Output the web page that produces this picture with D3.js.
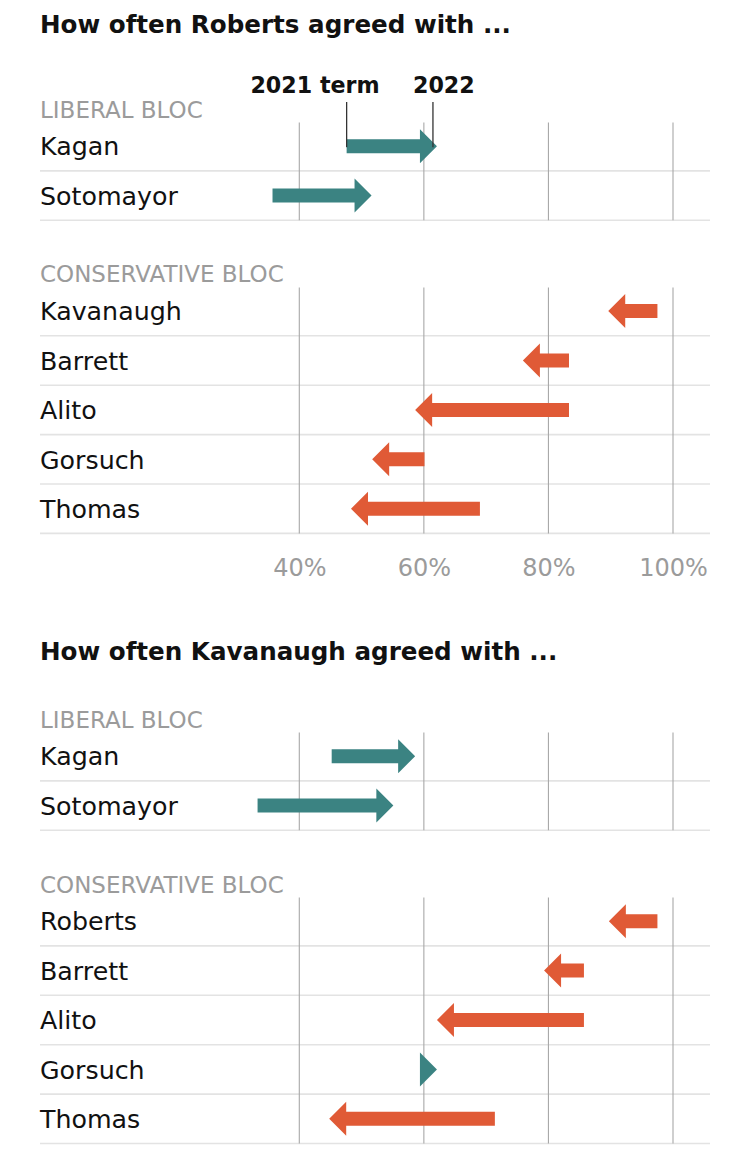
<!DOCTYPE html>
<html>
<head>
<meta charset="utf-8">
<script src="https://cdn.jsdelivr.net/npm/d3@7"></script>
<style>
  html, body { margin: 0; padding: 0; background: #fff; }
  svg { display: block; }
  text { font-family: "DejaVu Sans", sans-serif; }
</style>
</head>
<body>
<svg id="chart" width="750" height="1155"></svg>
<script>
// ---------------- DATA ----------------
const robertsTitle = "How often Roberts agreed with ...";
const robertsJustices = ["Kagan", "Sotomayor", "Kavanaugh", "Barrett", "Alito", "Gorsuch", "Thomas"];
const robertsBlocs = ["liberal", "liberal", "conservative", "conservative", "conservative", "conservative", "conservative"];
const roberts2021 = [47.6, 35.7, 97.5, 83.3, 83.3, 60.1, 69.0];
const roberts2022 = [62.1, 51.6, 89.6, 75.9, 58.6, 51.7, 48.3];

const kavanaughTitle = "How often Kavanaugh agreed with ...";
const kavanaughJustices = ["Kagan", "Sotomayor", "Roberts", "Barrett", "Alito", "Gorsuch", "Thomas"];
const kavanaughBlocs = ["liberal", "liberal", "conservative", "conservative", "conservative", "conservative", "conservative"];
const kavanaugh2021 = [45.2, 33.3, 97.5, 85.7, 85.7, 60.5, 71.4];
const kavanaugh2022 = [58.6, 55.1, 89.7, 79.3, 62.1, 62.1, 44.8];

const blocKeys = ["liberal", "conservative"];
const blocLabels = ["LIBERAL BLOC", "CONSERVATIVE BLOC"];
const tickValues = [40, 60, 80, 100];
const termLabels = ["2021 term", "2022"];

// ---------------- STYLE / LAYOUT ----------------
const TEAL = "#3b8382";
const ORANGE = "#e05a36";
const GRID = "#a8a8a8";
const SEP = "#e3e3e3";
const GRAYTXT = "#9b9b9b";
const ROW_H = 49.4;
const SHAFT_H = 7;     // half thickness
const HEAD_HH = 17;    // half height of head
const HEAD_L = 17;     // head length
const LEFT = 40, RIGHT = 710;

const svg = d3.select("#chart");
const x = d3.scaleLinear().domain([40, 100]).range([299.3, 673]);

function arrowPath(x0, x1, cy) {
  const dir = x1 >= x0 ? 1 : -1;
  const tip = x1;
  const base = tip - dir * HEAD_L;
  const p = d3.path();
  if (Math.abs(x1 - x0) > HEAD_L) {
    p.moveTo(x0, cy - SHAFT_H);
    p.lineTo(base, cy - SHAFT_H);
    p.lineTo(base, cy - HEAD_HH);
    p.lineTo(tip, cy);
    p.lineTo(base, cy + HEAD_HH);
    p.lineTo(base, cy + SHAFT_H);
    p.lineTo(x0, cy + SHAFT_H);
  } else {
    p.moveTo(base, cy - HEAD_HH);
    p.lineTo(tip, cy);
    p.lineTo(base, cy + HEAD_HH);
  }
  p.closePath();
  return p.toString();
}

function drawChart(cfg) {
  const g = svg.append("g");

  g.append("text")
    .attr("x", LEFT).attr("y", cfg.titleY)
    .attr("font-size", 24.6).attr("font-weight", "bold").attr("fill", "#111")
    .text(cfg.title);

  blocKeys.forEach((bk, bi) => {
    const idx = cfg.blocs.map((b, i) => b === bk ? i : -1).filter(i => i >= 0);
    const top = cfg.groupTops[bi];
    const n = idx.length;

    // bloc label
    g.append("text")
      .attr("x", LEFT).attr("y", top - 4)
      .attr("font-size", 23).attr("fill", GRAYTXT)
      .text(blocLabels[bi]);

    // separators
    g.selectAll(null).data(d3.range(n)).join("line")
      .attr("x1", LEFT).attr("x2", RIGHT)
      .attr("y1", i => top + (i + 1) * ROW_H).attr("y2", i => top + (i + 1) * ROW_H)
      .attr("stroke", SEP).attr("stroke-width", 1.6);

    // vertical gridlines
    g.selectAll(null).data(tickValues).join("line")
      .attr("x1", d => x(d)).attr("x2", d => x(d))
      .attr("y1", top + 1).attr("y2", top + n * ROW_H)
      .attr("stroke", GRID).attr("stroke-width", 1.1);

    // names
    g.selectAll(null).data(idx).join("text")
      .attr("x", LEFT)
      .attr("y", (d, k) => top + (k + 1) * ROW_H - 15.5)
      .attr("font-size", 25.3).attr("fill", "#111")
      .text(d => cfg.justices[d]);

    // arrows
    g.selectAll(null).data(idx).join("path")
      .attr("d", (d, k) => arrowPath(x(cfg.v2021[d]), x(cfg.v2022[d]), top + k * ROW_H + ROW_H / 2))
      .attr("fill", d => cfg.v2022[d] >= cfg.v2021[d] ? TEAL : ORANGE);

    // annotation on first row
    if (cfg.annotate && bi === 0) {
      const d = idx[0];
      const cy = top + ROW_H / 2;
      const xs = x(cfg.v2021[d]);
      const xe = x(cfg.v2022[d]) - 4;
      [xs, xe].forEach(xx => {
        g.append("line")
          .attr("x1", xx).attr("x2", xx)
          .attr("y1", cfg.annotY + 9).attr("y2", cy + 1)
          .attr("stroke", "#333").attr("stroke-width", 1.3);
      });
      g.append("text")
        .attr("x", xs + 33).attr("y", cfg.annotY)
        .attr("text-anchor", "end")
        .attr("font-size", 22.2).attr("font-weight", "bold").attr("fill", "#111")
        .text(termLabels[0]);
      g.append("text")
        .attr("x", xe - 20).attr("y", cfg.annotY)
        .attr("text-anchor", "start")
        .attr("font-size", 22.2).attr("font-weight", "bold").attr("fill", "#111")
        .text(termLabels[1]);
    }
  });

  if (cfg.axisY) {
    const axis = d3.axisBottom(x).tickValues(tickValues).tickFormat(d => d + "%").tickSize(0);
    const ag = g.append("g").attr("transform", `translate(0,${cfg.axisY})`).call(axis);
    ag.select(".domain").remove();
    ag.selectAll("text")
      .attr("y", 0).attr("dy", 0)
      .attr("font-size", 24).attr("fill", GRAYTXT)
      .attr("font-family", "DejaVu Sans, sans-serif");
  }
}

drawChart({
  title: robertsTitle, justices: robertsJustices, blocs: robertsBlocs,
  v2021: roberts2021, v2022: roberts2022,
  titleY: 33, annotY: 93, groupTops: [121.5, 286.4], axisY: 576, annotate: true
});

drawChart({
  title: kavanaughTitle, justices: kavanaughJustices, blocs: kavanaughBlocs,
  v2021: kavanaugh2021, v2022: kavanaugh2022,
  titleY: 660, groupTops: [731.5, 896.5], axisY: null, annotate: false
});
</script>
</body>
</html>
